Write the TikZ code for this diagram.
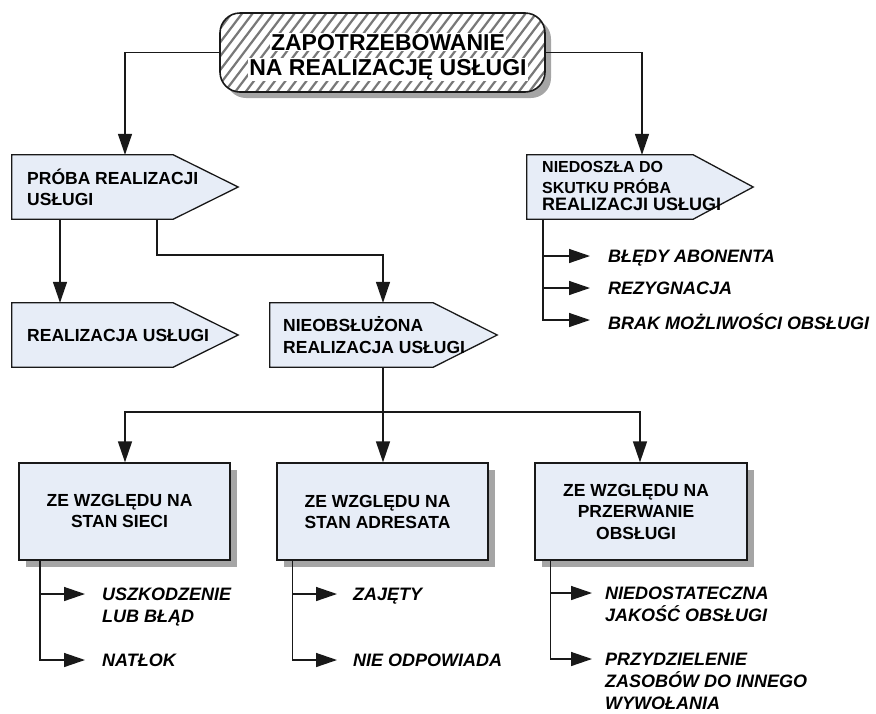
\documentclass[tikz,border=0pt]{standalone}
\usepackage{fontspec}
\setmainfont{Liberation Sans}
\usetikzlibrary{arrows.meta,calc,shadows}

\definecolor{boxfill}{RGB}{231,237,247}
\definecolor{edge}{RGB}{25,25,25}
\definecolor{shade}{RGB}{165,165,165}
\definecolor{hatch}{RGB}{120,120,120}

\begin{document}
\begin{tikzpicture}[x=1pt,y=-1pt,
  conn/.style={draw=edge, line width=1.4pt},
  arr/.style={conn, -{Triangle[length=21pt,width=14pt]}},
  bodybox/.style={rectangle, minimum height=64pt, inner sep=0pt},
  pentshape/.style={draw=edge, fill=boxfill, line width=1.3pt, line join=miter},
  headtxt/.style={font=\bfseries\fontsize{17.5}{21.5}\selectfont, align=left, inner sep=0pt, anchor=west, text=black},
  smalltxt/.style={font=\bfseries\fontsize{16}{19}\selectfont, inner sep=0pt, anchor=base west},
  titletxt/.style={font=\bfseries\fontsize{23}{25}\selectfont, fill=white, inner sep=1pt, anchor=base},
  catbox/.style={rectangle, draw=edge, fill=boxfill, line width=1.3pt,
    minimum width=211pt, minimum height=97pt,
    drop shadow={shadow xshift=7pt, shadow yshift=-7pt, opacity=1, fill=shade}},
  cattxt/.style={font=\bfseries\fontsize{17.5}{21.5}\selectfont, align=center, inner sep=0pt},
  item/.style={font=\bfseries\itshape\fontsize{18}{22}\selectfont, align=left, inner sep=0pt, anchor=north west},
]
\useasboundingbox (0,0) rectangle (876,713);

% ---------- top demand box (hatched, rounded) ----------
\node[rectangle, rounded corners=20pt, draw=edge, line width=1.6pt, fill=white,
      minimum width=325pt, minimum height=79pt,
      drop shadow={shadow xshift=6pt, shadow yshift=-6pt, opacity=1, fill=shade},
      path picture={
        \foreach \k in {-12,...,34}
          \draw[hatch, line width=2.2pt]
            ($(path picture bounding box.south west)+(10.5*\k,6)$) -- ++(72,-95);
      }] (top) at (382.5,52.5) {};
\node[titletxt] (t1) at (388,50.2) {ZAPOTRZEBOWANIE};
\node[titletxt] (t2) at (388,75.2) {NA REALIZACJĘ USŁUGI};

% ---------- arrow-shaped boxes ----------
\node[bodybox, minimum width=161pt] (proba)  at (92.5,187) {};
\node[bodybox, minimum width=166pt] (niedo)  at (610,187) {};
\node[bodybox, minimum width=161pt] (realiz) at (92.5,335) {};
\node[bodybox, minimum width=163pt] (nieob)  at (351.5,335) {};

\draw[pentshape] (proba.north west) -- (proba.north east) -- ($(proba.east)+(65,0)$)
  -- (proba.south east) -- (proba.south west) -- cycle;
\draw[pentshape] (niedo.north west) -- (niedo.north east) -- ($(niedo.east)+(60,0)$)
  -- (niedo.south east) -- (niedo.south west) -- cycle;
\draw[pentshape] (realiz.north west) -- (realiz.north east) -- ($(realiz.east)+(65,0)$)
  -- (realiz.south east) -- (realiz.south west) -- cycle;
\draw[pentshape] (nieob.north west) -- (nieob.north east) -- ($(nieob.east)+(64,0)$)
  -- (nieob.south east) -- (nieob.south west) -- cycle;

\node[headtxt] (probaT)  at (27,187.5) {PRÓBA REALIZACJI\\USŁUGI};
\node[headtxt] (realizT) at (27,335) {REALIZACJA USŁUGI};
\node[headtxt] (nieobT)  at (283,335) {NIEOBSŁUŻONA\\REALIZACJA USŁUGI};
\node[smalltxt] (niedoT1) at (542,172.4) {NIEDOSZŁA DO};
\node[smalltxt] (niedoT2) at (542,193.1) {SKUTKU PRÓBA};
\node[smalltxt, font=\bfseries\fontsize{18}{21}\selectfont] (niedoT3) at (542,210.8) {REALIZACJI USŁUGI};

% ---------- category boxes ----------
\node[catbox] (box1) at (124.5,511.5) {};
\node[catbox] (box2) at (382.5,511.5) {};
\node[catbox, minimum width=212pt] (box3) at (641,511.5) {};
\node[cattxt] (box1T) at (119.5,511) {ZE WZGLĘDU NA\\STAN SIECI};
\node[cattxt] (box2T) at (377.5,512) {ZE WZGLĘDU NA\\STAN ADRESATA};
\node[cattxt] (box3T) at (636,511.5) {ZE WZGLĘDU NA\\PRZERWANIE\\OBSŁUGI};

% ---------- main connectors ----------
\coordinate (split) at (270,255);
\coordinate (bus) at (383,412);
\draw[arr] (top.west) -| ([xshift=32.5pt]proba.north);
\draw[arr] (top.east) -| ([xshift=32pt]niedo.north);
\draw[arr] ([xshift=-32.5pt]proba.south) -- ([xshift=-32.5pt]realiz.north);
\draw[arr] ([xshift=64.5pt]proba.south) |- (split) -| ([xshift=31.5pt]nieob.north);
\draw[conn] ([xshift=31.5pt]nieob.south) -- (bus);
\draw[arr] (bus) -| ([xshift=0.5pt]box1.north);
\draw[arr] (bus) -- ([xshift=0.5pt]box2.north);
\draw[arr] (bus) -| ([xshift=-1pt]box3.north);

% ---------- lists of causes ----------
% failed attempt
\coordinate (n0) at (543,219);
\coordinate (n1) at (590,256);
\coordinate (n2) at (590,288);
\coordinate (n3) at (590,320);
\draw[arr] (n0) |- (n1);
\draw[arr] (n0) |- (n2);
\draw[arr] (n0) |- (n3);
\node[item] (n1T) at (608,249.5) {BŁĘDY ABONENTA};
\node[item] (n2T) at (608,281.5) {REZYGNACJA};
\node[item] (n3T) at (608,313.5) {BRAK MOŻLIWOŚCI OBSŁUGI};

% network state
\coordinate (a0) at ([xshift=21.5pt]box1.south west);
\coordinate (a1) at (85,594);
\coordinate (a2) at (85,660);
\draw[arr] (a0) |- (a1);
\draw[arr] (a0) |- (a2);
\node[item] (a1T) at (102,587.5) {USZKODZENIE\\LUB BŁĄD};
\node[item] (a2T) at (102,653.5) {NATŁOK};

% called party state
\coordinate (b0) at ([xshift=16pt]box2.south west);
\coordinate (b1) at (337,594);
\coordinate (b2) at (337,660);
\draw[arr] (b0) |- (b1);
\draw[arr] (b0) |- (b2);
\node[item] (b1T) at (353,587.5) {ZAJĘTY};
\node[item] (b2T) at (353,653.5) {NIE ODPOWIADA};

% service interruption
\coordinate (c0) at ([xshift=16pt]box3.south west);
\coordinate (c1) at (592,593);
\coordinate (c2) at (592,659);
\draw[arr] (c0) |- (c1);
\draw[arr] (c0) |- (c2);
\node[item] (c1T) at (605,586.5) {NIEDOSTATECZNA\\JAKOŚĆ OBSŁUGI};
\node[item] (c2T) at (605,652.5) {PRZYDZIELENIE\\ZASOBÓW DO INNEGO\\WYWOŁANIA};
\end{tikzpicture}
\end{document}
